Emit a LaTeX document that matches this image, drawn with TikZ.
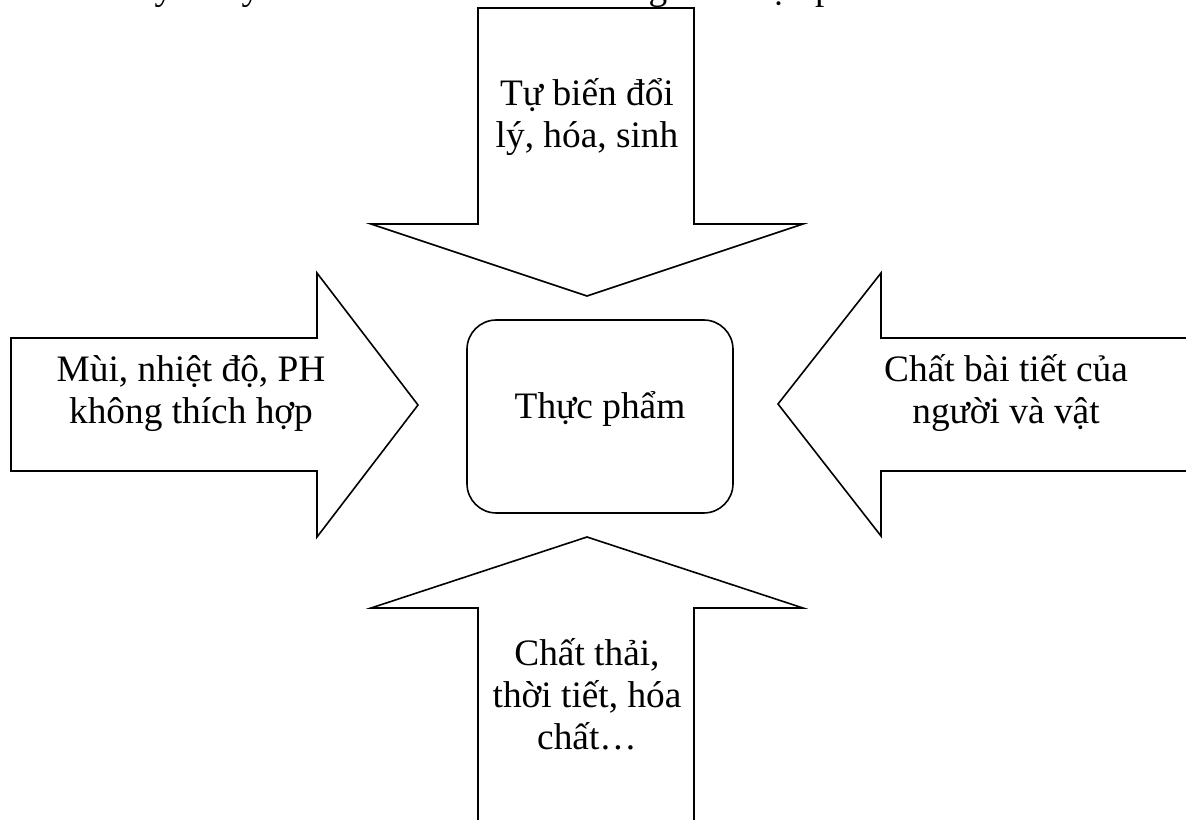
\documentclass[tikz,border=0pt]{standalone}
\usepackage{fontspec}
\setmainfont{Liberation Serif}
\tikzset{
  blockarrow/.style={draw=black, line width=1.2pt, fill=white, line join=miter},
  foodbox/.style={draw=black, line width=1.2pt, fill=white, rounded corners=22pt,
    minimum width=199.5pt, minimum height=144.75pt, inner sep=0pt},
  lbl/.style={font=\fontsize{28}{31.5}\selectfont, align=center, inner sep=0pt},
}
\begin{document}
\begin{tikzpicture}[x=0.75pt, y=-0.75pt]
  \useasboundingbox (0,0) rectangle (1186,820);
  \clip (0,0) rectangle (1186,820);

  % caption line running off the top edge
  \node[lbl, anchor=base west, align=left] (caption) at (-51,-0.5)
    {Sơ đồ cho thấy các yếu tố có thể làm ảnh hưởng đến thực phẩm};

  % downward block arrow
  \draw[blockarrow] (478,8) -- (694,8) -- (694,224) -- (803,224) -- (587,296)
    -- (371,224) -- (478,224) -- cycle;
  % upward block arrow
  \draw[blockarrow] (587,537) -- (803,608) -- (694,608) -- (694,830)
    -- (478,830) -- (478,608) -- (371,608) -- cycle;
  % rightward block arrow
  \draw[blockarrow] (11,338) -- (317,338) -- (317,273) -- (418,405)
    -- (317,537) -- (317,471) -- (11,471) -- cycle;
  % leftward block arrow
  \draw[blockarrow] (778,404) -- (881,273) -- (881,338) -- (1200,338)
    -- (1200,471) -- (881,471) -- (881,536) -- cycle;

  % central box
  \node[foodbox] (food) at (600,416.5) {};
  \node[lbl, anchor=base] (foodtext) at (600,418) {Thực phẩm};

  % arrow labels (anchored at the baseline of their last line)
  \node[lbl, anchor=base] (toptext) at (587,148) {Tự biến đổi\\lý, hóa, sinh};
  \node[lbl, anchor=base] (lefttext) at (191,423) {Mùi, nhiệt độ, PH\\không thích hợp};
  \node[lbl, anchor=base] (righttext) at (1006,423) {Chất bài tiết của\\người và vật};
  \node[lbl, anchor=base] (bottomtext) at (587,749) {Chất thải,\\thời tiết, hóa\\chất…};
\end{tikzpicture}
\end{document}
